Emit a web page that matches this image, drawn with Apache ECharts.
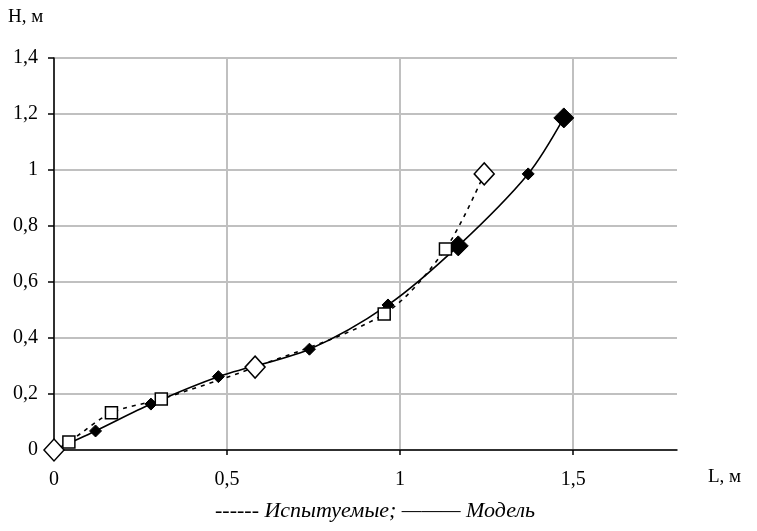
<!DOCTYPE html>
<html><head><meta charset="utf-8">
<script src="https://cdn.jsdelivr.net/npm/echarts@6/dist/echarts.min.js"></script>
<style>html,body{margin:0;padding:0;background:#fff}#c{width:757px;height:531px}</style>
</head><body><div id="c"></div>
<script>
// Data
const modelL = [0, 0.12, 0.28, 0.475, 0.738, 0.965, 1.168, 1.37, 1.473];
const modelH = [0, 0.068, 0.164, 0.262, 0.36, 0.518, 0.729, 0.986, 1.186];
const testL = [0, 0.043, 0.166, 0.31, 0.581, 0.954, 1.131, 1.243];
const testH = [0, 0.029, 0.133, 0.182, 0.296, 0.486, 0.718, 0.986];
const yTicks = [0, 0.2, 0.4, 0.6, 0.8, 1, 1.2, 1.4];
const xTicks = [0, 0.5, 1, 1.5];
const legendText = '------ Испытуемые; ——— Модель';

const modelBig = [6, 8];
const modelNone = [0];
const testDiamond = [0, 4, 7];

const font = 'Liberation Serif';
const fmt = v => String(+(+v).toFixed(2)).replace('.', ',');

const chart = echarts.init(document.getElementById('c'), null, {renderer: 'canvas'});
chart.setOption({
  animation: false,
  backgroundColor: '#fff',
  grid: {left: 54, right: 80, top: 58, bottom: 81, containLabel: false},
  xAxis: {
    type: 'value', min: 0, max: 1.8, interval: 0.5,
    axisLine: {show: true, onZero: false, lineStyle: {color: '#000', width: 1.5}},
    axisTick: {show: true, inside: false, length: 5, customValues: xTicks, lineStyle: {color: '#000', width: 1.5}},
    axisLabel: {fontFamily: font, fontSize: 20, color: '#000', margin: 20, customValues: xTicks,
      formatter: v => fmt(v)},
    splitLine: {show: true, lineStyle: {color: '#c0c0c0', width: 2}}
  },
  yAxis: {
    type: 'value', min: 0, max: 1.4, interval: 0.2,
    axisLine: {show: true, onZero: false, lineStyle: {color: '#000', width: 1.5}},
    axisTick: {show: true, inside: false, length: 6, lineStyle: {color: '#000', width: 1.5}},
    axisLabel: {fontFamily: font, fontSize: 20, color: '#000', margin: 16,
      formatter: v => yTicks.some(t => Math.abs(t - v) < 1e-9) ? fmt(v) : ''},
    splitLine: {show: true, lineStyle: {color: '#c0c0c0', width: 2}}
  },
  graphic: [
    {type: 'text', left: 8, top: 8, style: {text: 'H, м', fontFamily: font, fontSize: 19, fill: '#000'}},
    {type: 'text', left: 708, top: 468, style: {text: 'L, м', fontFamily: font, fontSize: 19, fill: '#000'}},
    {type: 'text', x: 375, y: 500, style: {text: legendText, textAlign: 'center', fontFamily: font, fontSize: 22, fontStyle: 'italic', fill: '#000'}}
  ],
  series: [
    {
      type: 'line', name: 'Модель', smooth: 0.3,
      data: modelL.map((l, i) => [l, modelH[i]]),
      lineStyle: {color: '#000', width: 1.6},
      itemStyle: {color: '#000', borderColor: '#000', borderWidth: 1},
      showAllSymbol: true,
      symbol: (v, p) => modelNone.includes(p.dataIndex) ? 'none' : 'diamond',
      symbolSize: (v, p) => modelBig.includes(p.dataIndex) ? 20 : 12,
      z: 2
    },
    {
      type: 'line', name: 'Испытуемые', smooth: 0.3,
      data: testL.map((l, i) => [l, testH[i]]),
      lineStyle: {color: '#000', width: 1.6, type: [4, 5]},
      itemStyle: {color: '#fff', borderColor: '#000', borderWidth: 1.5},
      showAllSymbol: true,
      symbol: (v, p) => testDiamond.includes(p.dataIndex) ? 'diamond' : 'rect',
      symbolSize: (v, p) => testDiamond.includes(p.dataIndex) ? [20, 22] : 12,
      z: 3
    }
  ]
});
</script></body></html>
